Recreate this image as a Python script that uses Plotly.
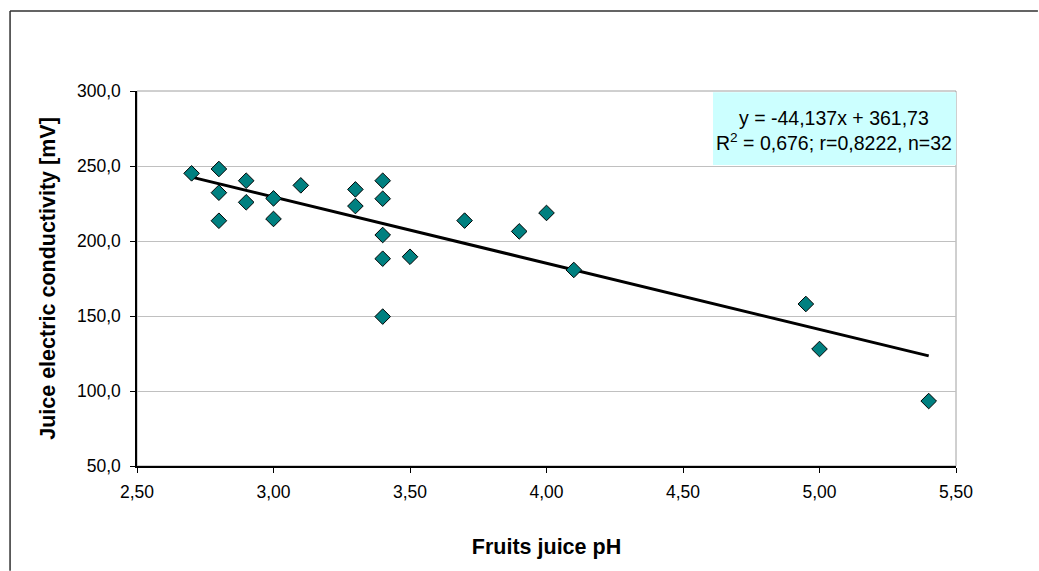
import plotly.graph_objects as go

# Data
ph = [2.70, 2.80, 2.80, 2.80, 2.90, 2.90, 3.00, 3.00, 3.10, 3.30, 3.30,
      3.40, 3.40, 3.40, 3.40, 3.40, 3.50, 3.70, 3.90, 4.00, 4.10, 4.95, 5.00, 5.40]
conductivity = [245.1, 248.0, 232.2, 213.5, 240.2, 225.8, 228.4, 214.7, 237.1, 234.4, 223.3,
                240.2, 228.2, 204.0, 188.2, 149.6, 189.5, 213.6, 206.4, 218.7, 180.7, 158.0, 128.0, 93.3]

slope = -44.137
intercept = 361.73
eq_text = "y = -44,137x + 361,73<br>R<sup>2</sup> = 0,676; r=0,8222, n=32"

x_ticks = [2.5, 3.0, 3.5, 4.0, 4.5, 5.0, 5.5]
y_ticks = [50, 100, 150, 200, 250, 300]

font = "Liberation Sans, Arial, sans-serif"

trend_x = [min(ph), max(ph)]
trend_y = [slope * v + intercept for v in trend_x]

fig = go.Figure()
fig.add_trace(go.Scatter(x=trend_x, y=trend_y, mode="lines",
                         line=dict(color="black", width=3), hoverinfo="skip"))
fig.add_trace(go.Scatter(x=ph, y=conductivity, mode="markers",
                         marker=dict(symbol="diamond", size=12, color="#008080",
                                     line=dict(color="black", width=1))))

fig.update_layout(
    width=1039, height=571,
    margin=dict(l=137, r=83, t=91, b=105),
    paper_bgcolor="white", plot_bgcolor="white",
    separators=",.",
    showlegend=False,
    font=dict(family=font, color="black", size=17.5),
    xaxis=dict(range=[2.5, 5.5], tickvals=x_ticks, tickformat=".2f",
               showgrid=False, zeroline=False, showline=True, linecolor="black", linewidth=1.5,
               ticks="outside", ticklen=5, tickcolor="black", ticklabelstandoff=4,
               title=dict(text="<b>Fruits juice pH</b>", font=dict(size=21.5), standoff=38)),
    yaxis=dict(range=[50, 300], tickvals=y_ticks, tickformat=".1f",
               showgrid=True, gridcolor="#C0C0C0", gridwidth=1, zeroline=False,
               showline=True, linecolor="black", linewidth=1.5,
               ticks="outside", ticklen=5, tickcolor="black", ticklabelstandoff=6,
               title=dict(text="<b>Juice electric conductivity [mV]</b>", font=dict(size=21.5), standoff=15)),
    shapes=[
        # outer chart border: top and left edges (kept inside the page)
        dict(type="line", xref="paper", yref="paper", x0=-0.155, x1=1.1, y0=1.2133, y1=1.2133,
             line=dict(color="#303030", width=1.5), layer="below"),
        dict(type="line", xref="paper", yref="paper", x0=-0.155, x1=-0.155, y0=-0.279, y1=1.2133,
             line=dict(color="#303030", width=1.5), layer="below"),
        # plot area border (grey)
        dict(type="rect", xref="paper", yref="paper", x0=0, x1=1, y0=0, y1=1,
             line=dict(color="#A0A0A0", width=1), fillcolor="rgba(0,0,0,0)", layer="below"),
        # trendline label background
        dict(type="rect", xref="paper", yref="paper", x0=0.7033, x1=1.0, y0=0.8027, y1=0.997,
             line=dict(width=0), fillcolor="#CCFFFF", layer="above"),
    ],
    annotations=[
        dict(text=eq_text, xref="paper", yref="paper", x=0.851, y=0.896,
             showarrow=False, align="center", xanchor="center", yanchor="middle",
             font=dict(size=19.5, family=font, color="black")),
    ],
)

fig.write_html(
    "out.html",
    post_script="document.documentElement.style.overflow='hidden';"
                "document.body.style.overflow='hidden';document.body.style.margin='0';",
)
